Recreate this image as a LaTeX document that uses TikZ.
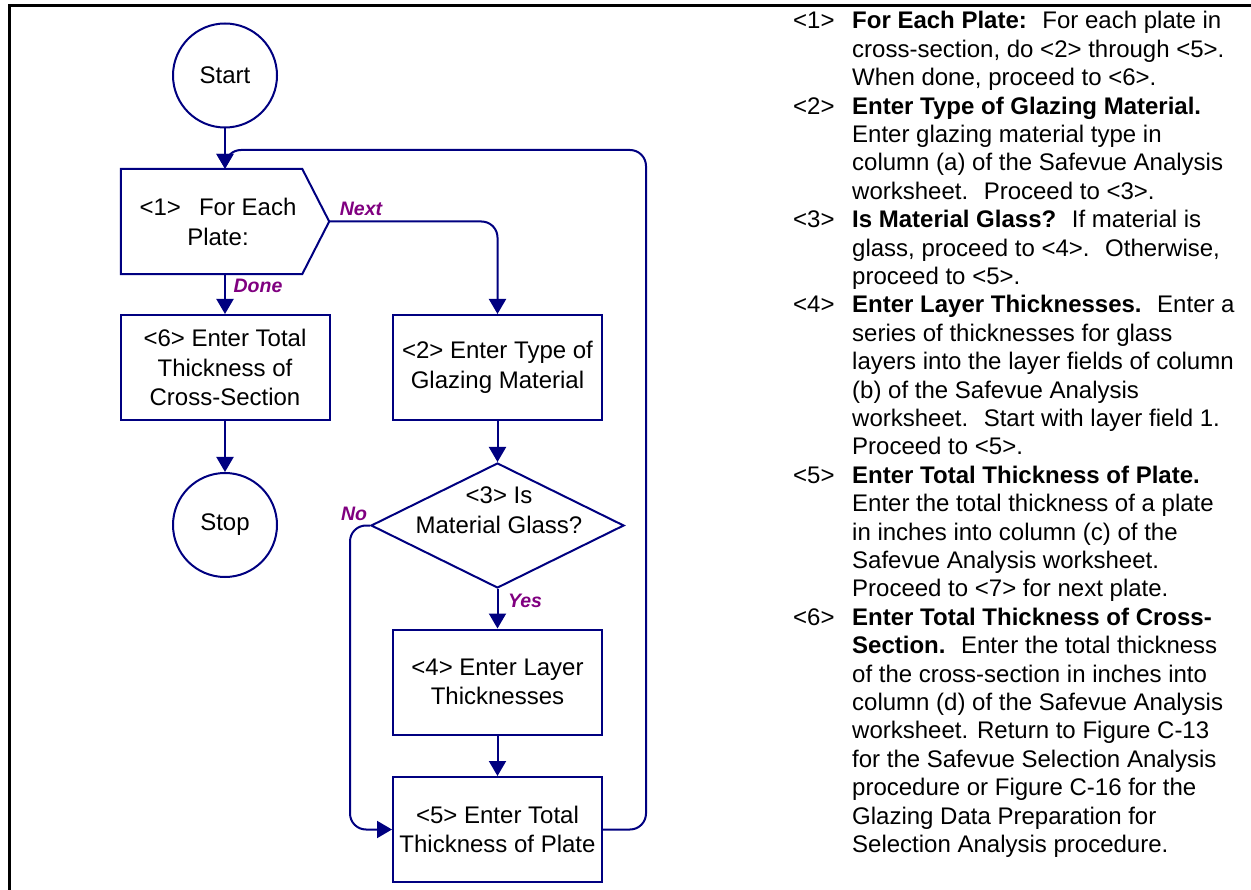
\documentclass[tikz,border=0pt]{standalone}
\usepackage{fontspec}
\setmainfont{Liberation Sans}
\usetikzlibrary{arrows.meta,shapes.geometric,calc}
\definecolor{navy}{RGB}{0,0,128}
\definecolor{lblpurple}{RGB}{128,0,128}
\begin{document}
\begin{tikzpicture}[x=1pt,y=-1pt,
  flow/.style={draw=navy, line width=2pt, fill=white},
  boxn/.style={flow, rectangle, minimum width=209pt, minimum height=105pt, inner sep=0pt, align=center, font=\fontsize{24}{29.5}\selectfont},
  term/.style={flow, circle, minimum size=104pt, inner sep=0pt, font=\fontsize{24}{29.5}\selectfont},
  txt/.style={inner sep=0pt, align=center, font=\fontsize{24}{29.5}\selectfont},
  conn/.style={draw=navy, line width=2pt, -{Triangle[width=17pt,length=15pt]}, rounded corners=16pt},
  lbl/.style={text=lblpurple, font=\fontsize{19.5}{22}\selectfont\bfseries\itshape, inner sep=0pt},
  frame/.style={draw=black, line width=3pt}
]
\useasboundingbox (0,0) rectangle (1251,890);
\draw[frame] (1251,5.3) -- (9,5.3) -- (9,890);

% nodes
\node[term] (start) at (225,75.5) {Start};
\node[minimum width=208pt, minimum height=105pt, inner sep=0pt] (hex) at (225,221.5) {};
\draw[flow] (hex.north west) -- ([xshift=-27pt]hex.north east) -- (hex.east) -- ([xshift=-27pt]hex.south east) -- (hex.south west) -- cycle;
\node[txt] (hextext) at (218,222) {<1>\hspace{18pt}For Each\\Plate:};
\node[boxn] (b6) at (225,367.5) {<6> Enter Total\\Thickness of\\Cross-Section};
\node[term] (stop) at (225,525) {Stop};
\node[boxn] (b2) at (497.5,367.5) {<2> Enter Type of\\Glazing Material};
\node[flow, diamond, minimum width=253pt, minimum height=125pt, inner sep=0pt] (d3) at (497.5,525.5) {};
\node[txt] (d3text) at (499,510) {<3> Is\\Material Glass?};
\node[boxn] (b4) at (497.5,682) {<4> Enter Layer\\Thicknesses};
\node[boxn] (b5) at (497.5,829.5) {<5> Enter Total\\Thickness of Plate};

% connectors
\coordinate (loopR) at (646,150);
\draw[conn] (start.south) -- (hex.north);
\draw[conn] (b5.east) -| (loopR) -| (hex.north);
\draw[conn] (hex.east) -| (b2.north);
\draw[conn] (hex.south) -- (b6.north);
\draw[conn] (b6.south) -- (stop.north);
\draw[conn] (b2.south) -- (d3.north);
\draw[conn] (d3.south) -- (b4.north);
\draw[conn] (b4.south) -- (b5.north);
\draw[conn] (d3.west) -| ([xshift=-42pt]b5.west) -- (b5.west);

% labels
\node[lbl] (lnext) at (361,209) {Next};
\node[lbl] (ldone) at (258,286) {Done};
\node[lbl] (lno) at (354,514) {No};
\node[lbl] (lyes) at (525,601) {Yes};

% description
\node[anchor=base west, inner sep=0pt, font=\fontsize{24}{28.4}\selectfont] (desc) at (793,29) {%
\begin{tabular}[t]{@{}p{59pt}@{}l@{}}
<1> & \textbf{For Each Plate:}~ For each plate in\\
 & cross-section, do <2> through <5>.\\
 & When done, proceed to <6>.\\
<2> & \textbf{Enter Type of Glazing Material.}\\
 & Enter glazing material type in\\
 & column (a) of the Safevue Analysis\\
 & worksheet.~ Proceed to <3>.\\
<3> & \textbf{Is Material Glass?}~ If material is\\
 & glass, proceed to <4>.~ Otherwise,\\
 & proceed to <5>.\\
<4> & \textbf{Enter Layer Thicknesses.}~ Enter a\\
 & series of thicknesses for glass\\
 & layers into the layer fields of column\\
 & (b) of the Safevue Analysis\\
 & worksheet.~ Start with layer field 1.\\
 & Proceed to <5>.\\
<5> & \textbf{Enter Total Thickness of Plate.}\\
 & Enter the total thickness of a plate\\
 & in inches into column (c) of the\\
 & Safevue Analysis worksheet.\\
 & Proceed to <7> for next plate.\\
<6> & \textbf{Enter Total Thickness of Cross-}\\
 & \textbf{Section.}~ Enter the total thickness\\
 & of the cross-section in inches into\\
 & column (d) of the Safevue Analysis\\
 & worksheet. Return to Figure C-13\\
 & for the Safevue Selection Analysis\\
 & procedure or Figure C-16 for the\\
 & Glazing Data Preparation for\\
 & Selection Analysis procedure.
\end{tabular}};
\end{tikzpicture}
\end{document}
